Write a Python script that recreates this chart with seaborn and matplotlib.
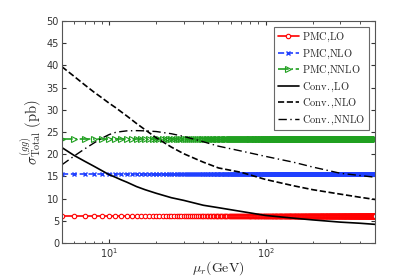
import numpy as np
import seaborn as sns
from matplotlib import pyplot as plt

# renormalization scale grid for the PMC curves (one point per GeV)
mu_pmc = np.arange(5, 501, 1)
pmc_lo = 6.0
pmc_nlo = 15.6
pmc_nnlo = 23.5

# conventional scale-setting curves
mu_conv = [5, 6, 7, 8, 9, 10, 11, 12, 13, 15, 17, 20, 25, 30, 40, 50, 70, 100, 150, 200, 300, 400, 500]
conv_lo = [21.5, 19.7, 18.4, 17.3, 16.3, 15.4, 14.8, 14.2, 13.7, 12.7, 12.0, 11.2, 10.2, 9.6,
           8.5, 7.95, 7.1, 6.2, 5.6, 5.2, 4.7, 4.45, 4.2]
conv_nlo = [39.7, 37.5, 35.6, 34.0, 32.7, 31.5, 30.5, 29.5, 28.6, 26.9, 25.5, 23.7, 21.6, 20.1,
            18.2, 16.9, 15.9, 14.3, 12.9, 12.0, 11.0, 10.3, 9.8]
conv_nnlo = [17.6, 19.6, 21.2, 22.5, 23.6, 24.4, 24.9, 25.1, 25.25, 25.3, 25.25, 25.1, 24.6, 24.0,
             22.8, 21.8, 20.7, 19.5, 18.2, 17.1, 15.7, 15.2, 14.8]

sns.set_style("ticks")
plt.rcParams['mathtext.fontset'] = 'cm'
plt.rcParams['font.family'] = ['DejaVu Sans']

fig, ax = plt.subplots(figsize=(4.15, 2.79), dpi=100)
fig.subplots_adjust(left=0.149, right=0.904, bottom=0.129, top=0.925)

sns.lineplot(x=mu_pmc, y=np.full(len(mu_pmc), pmc_lo), ax=ax, color='red', linestyle='-',
             marker='o', markersize=3.2, markerfacecolor='white', markeredgecolor='red',
             markeredgewidth=0.8, linewidth=1.2, label=r'$\mathrm{PMC{,}LO}$')
sns.lineplot(x=mu_pmc, y=np.full(len(mu_pmc), pmc_nlo), ax=ax, color='#2040ff', linestyle='--',
             marker='x', markersize=3.5, markeredgecolor='#2040ff', markeredgewidth=1.0,
             linewidth=1.2, label=r'$\mathrm{PMC{,}NLO}$')
sns.lineplot(x=mu_pmc, y=np.full(len(mu_pmc), pmc_nnlo), ax=ax, color='#20a020', linestyle='-.',
             marker='>', markersize=3.8, markerfacecolor='none', markeredgecolor='#20a020',
             markeredgewidth=0.8, linewidth=1.2, label=r'$\mathrm{PMC{,}NNLO}$')

sns.lineplot(x=mu_conv, y=conv_lo, ax=ax, color='black', linestyle='-', linewidth=1.2,
             label=r'$\mathrm{Conv.{,}LO}$')
sns.lineplot(x=mu_conv, y=conv_nlo, ax=ax, color='black', linestyle='--', linewidth=1.2,
             label=r'$\mathrm{Conv.{,}NLO}$')
sns.lineplot(x=mu_conv, y=conv_nnlo, ax=ax, color='black', linestyle=(0, (6, 2.5, 1, 2.5)),
             linewidth=1.0, label=r'$\mathrm{Conv.{,}NNLO}$')

ax.set_xscale('log')
ax.set_xlim(5, 500)
ax.set_ylim(0, 50)
ax.set_yticks(np.arange(0, 51, 5))
ax.tick_params(axis='both', which='both', direction='in', top=True, right=True,
               labelsize=7, colors='#333333', pad=2)
ax.tick_params(axis='both', which='major', length=3)
ax.tick_params(axis='x', which='minor', length=1.8)
for s in ax.spines.values():
    s.set_color('#555555')
    s.set_linewidth(0.8)

ax.set_xlabel(r'$\mu_r(\mathrm{GeV})$', fontsize=10, labelpad=0)
ax.set_ylabel(r'$\sigma^{(gg)}_{\mathrm{Total}}\ \mathrm{(pb)}$', fontsize=10.5, labelpad=2)

leg = ax.legend(loc='upper right', fontsize=7.5, frameon=True, fancybox=False,
                handlelength=2.0, borderpad=0.35, labelspacing=0.3, handletextpad=0.3,
                borderaxespad=0.6)
leg.get_frame().set_edgecolor('#444444')
leg.get_frame().set_linewidth(0.8)

fig.savefig('out.png', dpi=100)
